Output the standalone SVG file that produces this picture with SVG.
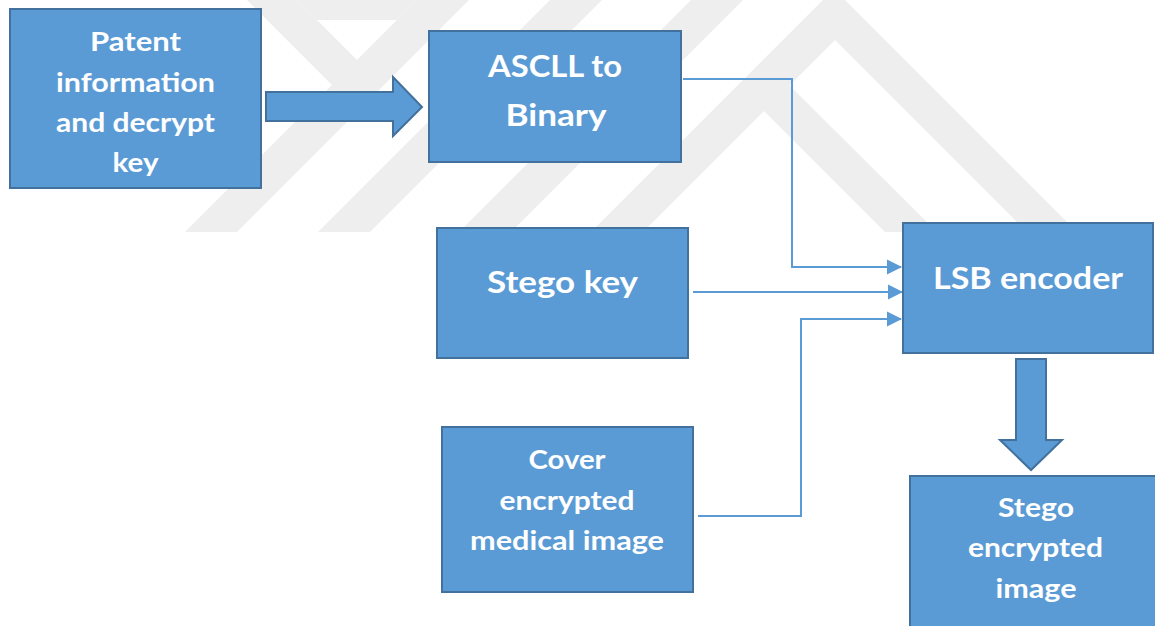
<svg xmlns="http://www.w3.org/2000/svg" width="1155" height="626" viewBox="0 0 1155 626">
  <defs>
    <style>
      .box { fill: #5B9BD5; stroke: #41719C; stroke-width: 2; }
      .block { fill: #5B9BD5; stroke: #41719C; stroke-width: 2; stroke-linejoin: miter; }
      .wire { fill: none; stroke: #5B9BD5; stroke-width: 2; }
      .lbl { fill: #FFFFFF; font-family: Lato, "Open Sans", "Liberation Sans", sans-serif; font-weight: 700; text-anchor: middle; }
      .s26 { font-size: 26px; }
      .s32 { font-size: 31px; }
      .mark { fill: #EEEEEE; }
    </style>
    <marker id="tip" markerUnits="userSpaceOnUse" markerWidth="16" markerHeight="16" refX="14" refY="8" orient="auto">
      <path d="M0,0.5 L15,8 L0,15.5 Z" fill="#5B9BD5"/>
    </marker>
    <clipPath id="clip-patent">
      <rect x="9" y="8" width="253" height="169"/>
    </clipPath>
  </defs>

  <rect width="1155" height="626" fill="#FFFFFF"/>

  <!-- faint background emblem made of 45-degree bands -->
  <g id="emblem">
    <polygon class="mark" points="247,0 297,0 360,63 335,88"/>
    <polygon class="mark" points="297,0 417,0 397,20 317,20"/>
    <polygon class="mark" points="417,0 469,0 237,232 185,232"/>
    <polygon class="mark" points="550,0 602,0 370,232 318,232"/>
    <polygon class="mark" points="691,0 743,0 511,232 459,232"/>
    <polygon class="mark" points="591,232 834,-11 1070,225 1020,225 835,40 643,232"/>
    <polygon class="mark" points="782,78 937,232 885,232 757,104"/>
  </g>

  <!-- connectors -->
  <g id="connectors">
    <polygon class="block" points="266,92 393,92 393,77 422,107 393,136 393,121 266,121"/>
    <polygon class="block" points="1016,359 1046,359 1046,440 1062,440 1031,470 1000,440 1016,440"/>
    <path class="wire" d="M683,79 H792 V267 H901" marker-end="url(#tip)"/>
    <path class="wire" d="M693,292 H902" marker-end="url(#tip)"/>
    <path class="wire" d="M698,516 H801 V319 H901" marker-end="url(#tip)"/>
  </g>

  <g id="patent-info">
    <rect class="box" x="10" y="9" width="251" height="179"/>
    <g clip-path="url(#clip-patent)">
      <text class="lbl s26" x="135.5" y="51" textLength="91" lengthAdjust="spacingAndGlyphs">Patent</text>
      <text class="lbl s26" x="135.5" y="92" textLength="159" lengthAdjust="spacingAndGlyphs">information</text>
      <text class="lbl s26" x="135.5" y="132" textLength="159" lengthAdjust="spacingAndGlyphs">and decrypt</text>
      <text class="lbl s26" x="135.5" y="172" textLength="46" lengthAdjust="spacingAndGlyphs">key</text>
    </g>
  </g>

  <g id="ascii-binary">
    <rect class="box" x="429" y="31" width="252" height="131"/>
    <text class="lbl s32" x="555" y="77" textLength="134" lengthAdjust="spacingAndGlyphs">ASCLL to</text>
    <text class="lbl s32" x="556" y="126" textLength="101" lengthAdjust="spacingAndGlyphs">Binary</text>
  </g>

  <g id="stego-key">
    <rect class="box" x="437" y="228" width="251" height="130"/>
    <text class="lbl s32" x="562.5" y="293" textLength="151" lengthAdjust="spacingAndGlyphs">Stego key</text>
  </g>

  <g id="lsb-encoder">
    <rect class="box" x="903" y="223" width="250" height="130"/>
    <text class="lbl s32" x="1028" y="289" textLength="190" lengthAdjust="spacingAndGlyphs">LSB encoder</text>
  </g>

  <g id="cover-image">
    <rect class="box" x="442" y="427" width="251" height="165"/>
    <text class="lbl s26" x="567" y="469" textLength="77" lengthAdjust="spacingAndGlyphs">Cover</text>
    <text class="lbl s26" x="567" y="510" textLength="135" lengthAdjust="spacingAndGlyphs">encrypted</text>
    <text class="lbl s26" x="567" y="550" textLength="194" lengthAdjust="spacingAndGlyphs">medical image</text>
  </g>

  <g id="stego-image">
    <rect class="box" x="910" y="476" width="252" height="170"/>
    <text class="lbl s26" x="1036" y="517" textLength="76" lengthAdjust="spacingAndGlyphs">Stego</text>
    <text class="lbl s26" x="1035.5" y="557" textLength="135" lengthAdjust="spacingAndGlyphs">encrypted</text>
    <text class="lbl s26" x="1036" y="598" textLength="81" lengthAdjust="spacingAndGlyphs">image</text>
  </g>
</svg>
